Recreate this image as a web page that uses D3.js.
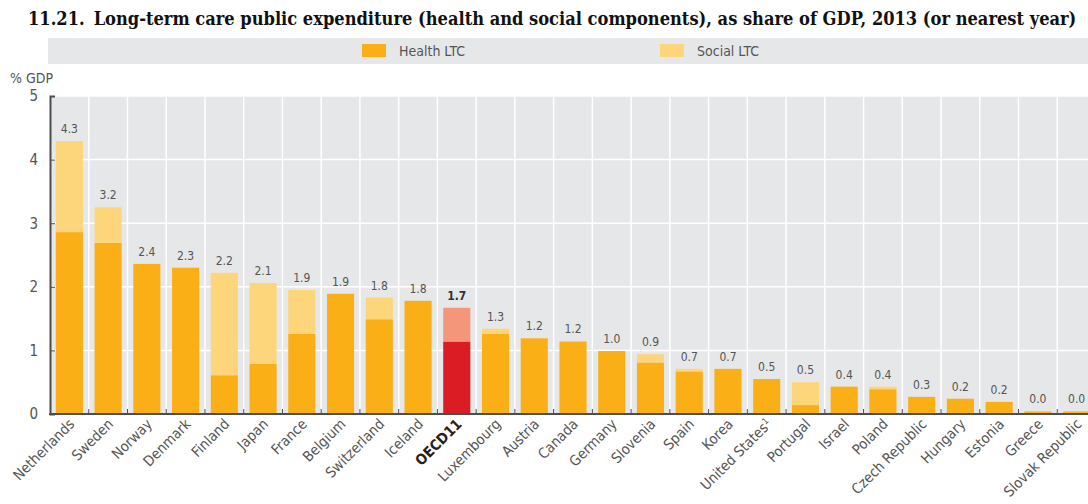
<!DOCTYPE html>
<html lang="en">
<head>
<meta charset="utf-8">
<title>LTC public expenditure</title>
<script src="https://cdn.jsdelivr.net/npm/d3@7"></script>
<style>
  body { margin: 0; background: #fff; }
  svg { display: block; }
  .narrow { font-family: "DejaVu Sans Condensed", "Liberation Sans Narrow", sans-serif; font-stretch: condensed; }
</style>
</head>
<body>
<script>
// data
var countries = ["Netherlands", "Sweden", "Norway", "Denmark", "Finland", "Japan", "France", "Belgium",
  "Switzerland", "Iceland", "OECD11", "Luxembourg", "Austria", "Canada", "Germany", "Slovenia", "Spain",
  "Korea", "United States", "Portugal", "Israel", "Poland", "Czech Republic", "Hungary", "Estonia",
  "Greece", "Slovak Republic"];
var healthLTC = [2.86, 2.69, 2.36, 2.30, 0.61, 0.79, 1.26, 1.89, 1.49, 1.78, 1.14, 1.26, 1.19, 1.14, 0.99,
  0.81, 0.67, 0.71, 0.55, 0.14, 0.43, 0.39, 0.27, 0.24, 0.19, 0.04, 0.04];
var socialLTC = [1.43, 0.56, 0, 0, 1.61, 1.27, 0.69, 0, 0.34, 0, 0.53, 0.08, 0, 0, 0,
  0.13, 0.04, 0, 0, 0.36, 0, 0.04, 0, 0, 0, 0, 0];
var totalLabels = ["4.3", "3.2", "2.4", "2.3", "2.2", "2.1", "1.9", "1.9", "1.8", "1.8", "1.7", "1.3", "1.2",
  "1.2", "1.0", "0.9", "0.7", "0.7", "0.5", "0.5", "0.4", "0.4", "0.3", "0.2", "0.2", "0.0", "0.0"];
var yTicks = [0, 1, 2, 3, 4, 5];
var seriesNames = ["Health LTC", "Social LTC"];

var W = 1088, H = 504;
var colHealth = "#fbaf17", colSocial = "#fdd67b";
var colHealthHi = "#dc1c24", colSocialHi = "#f4967a";
var txt = "#555";

var svg = d3.select("body").append("svg").attr("width", W).attr("height", H);

// title
var title = svg.append("text")
  .attr("x", 28).attr("y", 25)
  .attr("font-family", "'DejaVu Serif Condensed', 'DejaVu Serif', serif")
  .attr("font-stretch", "condensed")
  .attr("font-weight", "bold").attr("font-size", 18.1)
  .attr("fill", "#111");
title.append("tspan").text("11.21.");
title.append("tspan").attr("dx", 9)
  .text("Long-term care public expenditure (health and social components), as share of GDP, 2013 (or nearest year)");

// legend strip
svg.append("rect").attr("x", 48).attr("y", 38).attr("width", W - 48).attr("height", 26).attr("fill", "#e6e7e8");
var legX = [362, 660];
var leg = svg.selectAll("g.leg").data(seriesNames).enter().append("g").attr("class", "leg");
leg.append("rect")
  .attr("x", function(d, i) { return legX[i]; }).attr("y", 44)
  .attr("width", 24).attr("height", 13)
  .attr("fill", function(d, i) { return i == 0 ? colHealth : colSocial; });
leg.append("text")
  .attr("class", "narrow")
  .attr("x", function(d, i) { return legX[i] + 37; }).attr("y", 56)
  .attr("font-size", 14).attr("fill", txt)
  .text(function(d) { return d; });

// scales
var x = d3.scaleBand().domain(countries).range([50, 1096]).paddingInner(0.3).paddingOuter(0.15);
var y = d3.scaleLinear().domain([0, 5]).range([414, 96]);
var step = x.step();

// plot background
svg.append("rect").attr("x", 50).attr("y", 96).attr("width", W - 50).attr("height", 318).attr("fill", "#e6e7e8");

// gridlines
svg.selectAll("line.hg").data(yTicks.slice(1)).enter().append("line")
  .attr("x1", 50).attr("x2", W)
  .attr("y1", function(d) { return y(d); }).attr("y2", function(d) { return y(d); })
  .attr("stroke", "#fff").attr("stroke-width", 1.5);
svg.selectAll("line.vg").data(countries.slice(1)).enter().append("line")
  .attr("x1", function(d) { return x(d) - step * 0.15; }).attr("x2", function(d) { return x(d) - step * 0.15; })
  .attr("y1", 96).attr("y2", 414)
  .attr("stroke", "#fff").attr("stroke-width", 1.5);

// bars
var isHi = function(d) { return d == "OECD11"; };
svg.selectAll("rect.health").data(countries).enter().append("rect")
  .attr("x", function(d) { return x(d); })
  .attr("width", x.bandwidth())
  .attr("y", function(d, i) { return y(healthLTC[i]); })
  .attr("height", function(d, i) { return y(0) - y(healthLTC[i]); })
  .attr("fill", function(d) { return isHi(d) ? colHealthHi : colHealth; });
svg.selectAll("rect.social").data(countries).enter().append("rect")
  .attr("x", function(d) { return x(d); })
  .attr("width", x.bandwidth())
  .attr("y", function(d, i) { return y(healthLTC[i] + socialLTC[i]); })
  .attr("height", function(d, i) { return y(healthLTC[i]) - y(healthLTC[i] + socialLTC[i]); })
  .attr("fill", function(d) { return isHi(d) ? colSocialHi : colSocial; });

// value labels
svg.selectAll("text.val").data(countries).enter().append("text")
  .attr("class", "narrow")
  .attr("x", function(d) { return x(d) + x.bandwidth() / 2; })
  .attr("y", function(d, i) { return y(healthLTC[i] + socialLTC[i]) - 8; })
  .attr("text-anchor", "middle").attr("font-size", 12)
  .attr("font-weight", function(d) { return isHi(d) ? "bold" : "normal"; })
  .attr("fill", function(d) { return isHi(d) ? "#333" : txt; })
  .text(function(d, i) { return totalLabels[i]; });

// axes
var yAxis = d3.axisLeft(y).tickValues(yTicks).tickFormat(d3.format("d")).tickSize(-5).tickPadding(12);
var gy = svg.append("g").attr("transform", "translate(50,0)").call(yAxis);
gy.select(".domain").attr("stroke", "#4d4d4d").attr("stroke-width", 2);
gy.selectAll(".tick line").attr("stroke", "#4d4d4d");
gy.selectAll(".tick text").attr("class", "narrow").attr("font-size", 15).attr("fill", txt);

svg.append("line").attr("x1", 49).attr("x2", W).attr("y1", 414).attr("y2", 414)
  .attr("stroke", "#4d4d4d").attr("stroke-width", 2);
svg.selectAll("line.xt").data(countries.slice(1)).enter().append("line")
  .attr("x1", function(d) { return x(d) - step * 0.15; }).attr("x2", function(d) { return x(d) - step * 0.15; })
  .attr("y1", 409).attr("y2", 414)
  .attr("stroke", "#4d4d4d").attr("stroke-width", 1);

svg.append("text").attr("class", "narrow")
  .attr("x", 10).attr("y", 83).attr("font-size", 14).attr("fill", txt).text("% GDP");

// x labels
var xl = svg.selectAll("text.xl").data(countries).enter().append("text")
  .attr("class", "narrow")
  .attr("transform", function(d) {
    return "translate(" + (x(d) + x.bandwidth() / 2 + 6) + ",425) rotate(-45)";
  })
  .attr("text-anchor", "end").attr("font-size", 14.5)
  .attr("font-weight", function(d) { return isHi(d) ? "bold" : "normal"; })
  .attr("fill", function(d) { return isHi(d) ? "#222" : txt; })
  .text(function(d) { return d; });
xl.filter(function(d) { return d == "United States"; })
  .append("tspan").attr("dy", -5).attr("font-size", 9).text("1");
</script>
</body>
</html>
